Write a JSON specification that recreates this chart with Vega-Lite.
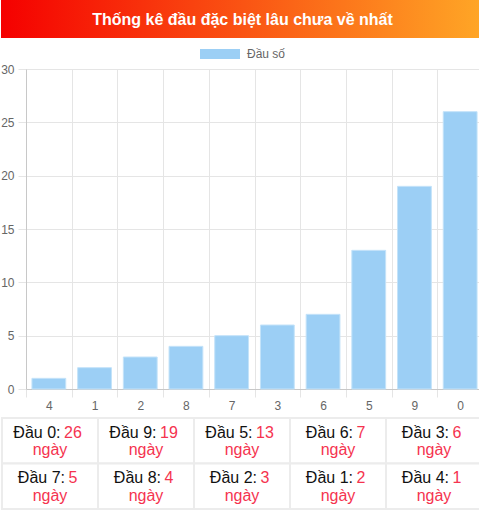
{
  "$schema": "https://vega.github.io/schema/vega-lite/v6.json",
  "padding": 0,
  "background": "white",
  "config": {"view": {"stroke": null}, "font": "Liberation Sans"},
  "datasets": {
    "tieude": [{"tieude": "Thống kê đầu đặc biệt lâu chưa về nhất"}],
    "dau": [
      {"dau": "0", "ngay": 26, "hang": 1, "cot": 1},
      {"dau": "9", "ngay": 19, "hang": 1, "cot": 2},
      {"dau": "5", "ngay": 13, "hang": 1, "cot": 3},
      {"dau": "6", "ngay": 7, "hang": 1, "cot": 4},
      {"dau": "3", "ngay": 6, "hang": 1, "cot": 5},
      {"dau": "7", "ngay": 5, "hang": 2, "cot": 1},
      {"dau": "8", "ngay": 4, "hang": 2, "cot": 2},
      {"dau": "2", "ngay": 3, "hang": 2, "cot": 3},
      {"dau": "1", "ngay": 2, "hang": 2, "cot": 4},
      {"dau": "4", "ngay": 1, "hang": 2, "cot": 5}
    ]
  },
  "columns": 1,
  "align": "none",
  "spacing": 10,
  "resolve": {"scale": {"color": "independent"}, "legend": {"color": "independent"}},
  "concat": [
    {
      "data": {"name": "tieude"},
      "width": 458,
      "height": 38,
      "layer": [
        {
          "mark": {"type": "rect", "fill": {"gradient": "linear", "x1": 0, "y1": 0, "x2": 1, "y2": 0,
            "stops": [{"offset": 0, "color": "#f50000"}, {"offset": 1, "color": "#ffa726"}]}},
          "encoding": {
            "x": {"datum": 0, "type": "quantitative", "scale": {"domain": [0, 1], "range": [-25, 458]}, "axis": null},
            "x2": {"datum": 1},
            "y": {"value": 0},
            "y2": {"value": "height"}
          }
        },
        {
          "mark": {"type": "text", "color": "white", "fontSize": 16, "fontWeight": "bold", "align": "center", "baseline": "alphabetic", "dy": 6},
          "encoding": {
            "x": {"datum": 0.5, "type": "quantitative"},
            "text": {"field": "tieude"}
          }
        }
      ]
    },
    {
      "columns": 1,
      "align": "none",
      "spacing": 6,
      "resolve": {"scale": {"color": "independent"}, "legend": {"color": "independent"}},
      "concat": [
        {
          "data": {"name": "dau"},
          "width": 457,
          "height": 320,
          "mark": {"type": "bar", "width": {"band": 0.74}, "stroke": "#c4e3f9", "strokeWidth": 1},
          "encoding": {
            "x": {"field": "dau", "type": "nominal", "sort": "y",
              "scale": {"paddingInner": 0, "paddingOuter": 0},
              "axis": {"title": null, "labelAngle": 0, "tickBand": "extent", "grid": true, "gridColor": "#e5e5e5",
                "tickColor": "#e5e5e5", "tickSize": 8, "domainColor": "#c8c8c8", "labelColor": "#666",
                "labelFontSize": 12, "labelPadding": 3}},
            "y": {"field": "ngay", "type": "quantitative", "scale": {"domain": [0, 30]},
              "axis": {"title": null, "values": [0, 5, 10, 15, 20, 25, 30], "gridColor": "#e5e5e5",
                "tickColor": "#e5e5e5", "tickSize": 8, "domainColor": "#c8c8c8", "labelColor": "#666",
                "labelFontSize": 12, "labelPadding": 4, "minExtent": 0}},
            "color": {"datum": "Đầu số", "type": "nominal", "scale": {"range": ["#9ccff5"]},
              "legend": {"orient": "none", "legendX": 188, "legendY": -21, "title": null,
                "symbolType": "M-4,-1L4,-1L4,1L-4,1Z", "symbolSize": 100, "symbolStrokeWidth": 0,
                "labelColor": "#666", "labelFontSize": 12, "labelOffset": 21, "padding": 0}}
          }
        },
        {
          "data": {"name": "dau"},
          "width": 455,
          "height": 91,
          "encoding": {
            "x": {"field": "cot", "type": "ordinal", "scale": {"paddingInner": 0, "paddingOuter": 0, "range": [-24, 456]}, "axis": null},
            "y": {"field": "hang", "type": "ordinal", "scale": {"paddingInner": 0, "paddingOuter": 0}, "axis": null}
          },
          "layer": [
            {"mark": {"type": "rect", "fill": "white", "stroke": "#ececec", "strokeWidth": 2}},
            {"mark": {"type": "text", "align": "right", "baseline": "alphabetic", "fontSize": 16, "color": "#111",
              "dy": -3, "dx": {"expr": "datum.ngay >= 10 ? 10.5 : 15"}, "text": {"expr": "'Đầu ' + datum.dau + ':'"}}},
            {"mark": {"type": "text", "align": "left", "baseline": "alphabetic", "fontSize": 16, "color": "#f5334f",
              "dy": -3, "dx": {"expr": "datum.ngay >= 10 ? 14 : 18.5"}},
              "encoding": {"text": {"field": "ngay"}}},
            {"mark": {"type": "text", "align": "center", "baseline": "alphabetic", "fontSize": 16, "color": "#f5334f",
              "dy": 14.5, "text": "ngày"}}
          ]
        }
      ]
    }
  ]
}
